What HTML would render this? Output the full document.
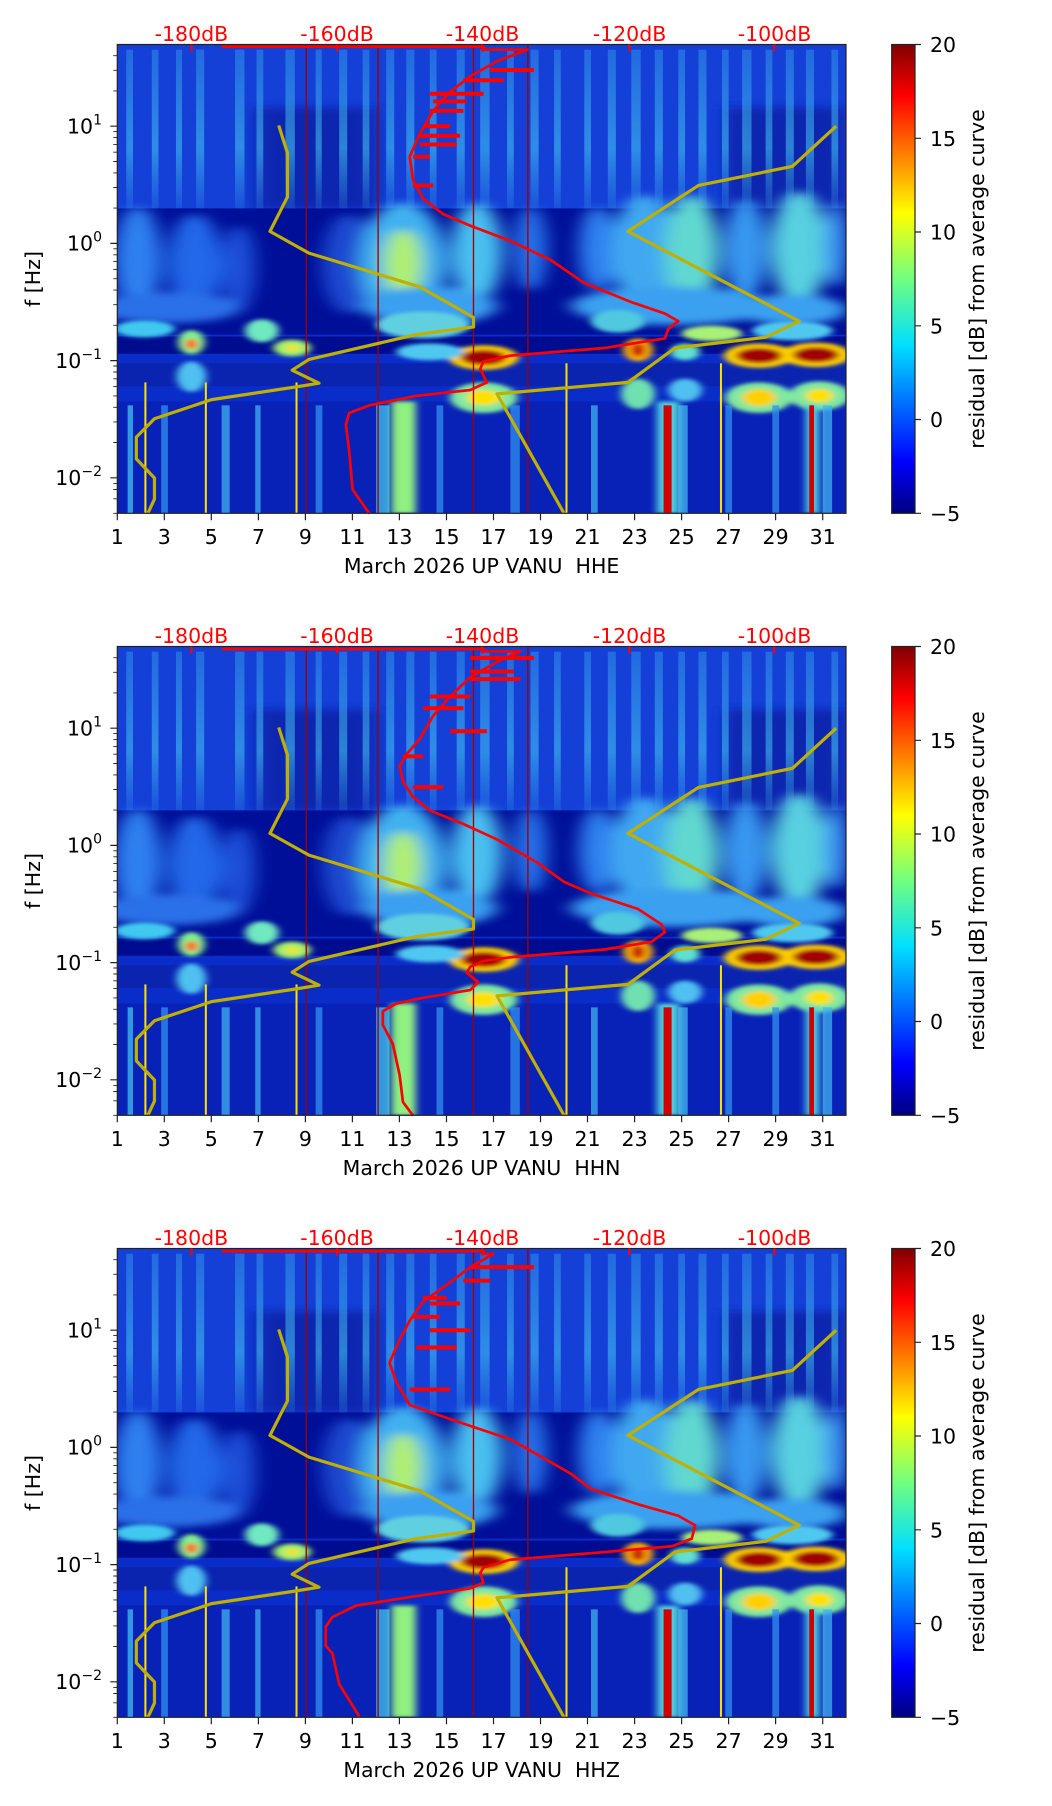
<!DOCTYPE html>
<html><head><meta charset="utf-8"><style>
html,body{margin:0;padding:0;background:#fff;}
svg{display:block;}
text{font-family:"DejaVu Sans","Liberation Sans",sans-serif;}
</style></head><body>
<svg width="1052" height="1806" viewBox="0 0 1052 1806" xmlns="http://www.w3.org/2000/svg">
<defs>
<linearGradient id="jet" x1="0" y1="1" x2="0" y2="0">
<stop offset="0" stop-color="#000080"/><stop offset="0.11" stop-color="#0000ff"/>
<stop offset="0.36" stop-color="#00e0ff"/><stop offset="0.5" stop-color="#70ff80"/>
<stop offset="0.64" stop-color="#ffff00"/><stop offset="0.89" stop-color="#ff0000"/>
<stop offset="1" stop-color="#800000"/></linearGradient>
<linearGradient id="stripeG" x1="0" y1="0" x2="0" y2="1">
<stop offset="0" stop-color="#40b8f0" stop-opacity="0.35"/><stop offset="0.6" stop-color="#40c0f0" stop-opacity="0.6"/><stop offset="1" stop-color="#40c0f0" stop-opacity="0.1"/></linearGradient>
<filter id="b1" x="-50%" y="-50%" width="200%" height="200%"><feGaussianBlur stdDeviation="14 10"/></filter>
<filter id="b2" x="-50%" y="-50%" width="200%" height="200%"><feGaussianBlur stdDeviation="6 5"/></filter>
<clipPath id="cp"><rect x="175" y="117" width="1085" height="1226"/></clipPath>
<g id="spec" clip-path="url(#cp)">
<rect x="175" y="117" width="1085" height="1226" fill="#0a2cc8"/>
<rect x="175" y="117" width="1085" height="430" fill="#1440d8"/>
<rect x="380" y="280" width="180" height="267" fill="#0a28b0" filter="url(#b1)"/>
<rect x="1080" y="280" width="180" height="267" fill="#0a28b0" filter="url(#b1)"/>
<g fill="url(#stripeG)">
<rect x="188" y="130" width="10" height="430"/><rect x="226" y="130" width="10" height="430"/>
<rect x="262" y="130" width="9" height="430"/><rect x="292" y="130" width="12" height="430"/>
<rect x="350" y="130" width="14" height="430"/><rect x="382" y="130" width="10" height="430"/>
<rect x="425" y="130" width="14" height="430"/><rect x="470" y="130" width="9" height="430"/>
<rect x="505" y="130" width="12" height="430"/><rect x="540" y="130" width="10" height="430"/>
<rect x="575" y="130" width="12" height="430"/><rect x="605" y="130" width="12" height="430"/>
<rect x="640" y="130" width="10" height="430"/><rect x="680" y="130" width="12" height="430"/>
<rect x="715" y="130" width="14" height="430"/><rect x="755" y="130" width="10" height="430"/>
<rect x="790" y="130" width="12" height="430"/><rect x="825" y="130" width="10" height="430"/>
<rect x="870" y="130" width="10" height="430"/><rect x="905" y="130" width="12" height="430"/>
<rect x="940" y="130" width="14" height="430"/><rect x="975" y="130" width="12" height="430"/>
<rect x="1010" y="130" width="10" height="430"/><rect x="1040" y="130" width="12" height="430"/>
<rect x="1075" y="130" width="10" height="430"/><rect x="1105" y="130" width="14" height="430"/>
<rect x="1140" y="130" width="10" height="430"/><rect x="1170" y="130" width="12" height="430"/>
<rect x="1200" y="130" width="12" height="430"/><rect x="1238" y="130" width="10" height="430"/>
</g>
<rect x="175" y="545" width="1085" height="330" fill="#000f98"/>
<g filter="url(#b1)">
<ellipse cx="205" cy="680" rx="35" ry="140" fill="#2f80f0"/>
<ellipse cx="290" cy="690" rx="40" ry="130" fill="#2468e8"/>
<ellipse cx="355" cy="700" rx="25" ry="110" fill="#1a50d8"/>
<ellipse cx="520" cy="690" rx="40" ry="130" fill="#1a48d0"/>
<ellipse cx="600" cy="690" rx="65" ry="160" fill="#40b0f0"/>
<ellipse cx="600" cy="690" rx="28" ry="90" fill="#b0f070"/>
<ellipse cx="710" cy="660" rx="38" ry="130" fill="#48c0f0"/>
<ellipse cx="790" cy="650" rx="25" ry="110" fill="#2870e8"/>
<ellipse cx="890" cy="650" rx="28" ry="110" fill="#2f80f0"/>
<ellipse cx="960" cy="660" rx="50" ry="150" fill="#40a8f0"/>
<ellipse cx="1030" cy="660" rx="40" ry="150" fill="#60d8d0"/>
<ellipse cx="1110" cy="650" rx="32" ry="130" fill="#3898f0"/>
<ellipse cx="1190" cy="650" rx="42" ry="150" fill="#58d0e0"/>
<ellipse cx="1245" cy="640" rx="18" ry="110" fill="#3a90f0"/>
<ellipse cx="250" cy="805" rx="110" ry="40" fill="#2a70e8"/>
<ellipse cx="640" cy="800" rx="100" ry="50" fill="#3aa0f0"/>
<ellipse cx="1000" cy="800" rx="150" ry="50" fill="#3aa0f0"/>
<ellipse cx="1180" cy="810" rx="80" ry="40" fill="#3aa0f0"/>
</g>
<rect x="175" y="880" width="1085" height="45" fill="#000c90"/>
<rect x="175" y="950" width="1085" height="60" fill="#0a24b0"/>
<rect x="175" y="1050" width="1085" height="293" fill="#0822b8"/>
<g filter="url(#b2)">
<ellipse cx="215" cy="860" rx="45" ry="22" fill="#40c8f0"/>
<ellipse cx="390" cy="865" rx="25" ry="30" fill="#70e8c0"/>
<ellipse cx="630" cy="850" rx="70" ry="35" fill="#60d0e0"/>
<ellipse cx="920" cy="840" rx="40" ry="30" fill="#50c8e0"/>
<ellipse cx="1060" cy="872" rx="45" ry="20" fill="#a8f078"/>
<ellipse cx="1180" cy="865" rx="60" ry="25" fill="#50c8f0"/>
<ellipse cx="285" cy="895" rx="20" ry="32" fill="#80f090"/>
<ellipse cx="285" cy="900" rx="9" ry="14" fill="#ff6000"/>
<ellipse cx="435" cy="910" rx="28" ry="22" fill="#a0f070"/>
<ellipse cx="435" cy="910" rx="10" ry="8" fill="#ffe000"/>
<ellipse cx="720" cy="935" rx="52" ry="32" fill="#ffd000"/>
<ellipse cx="720" cy="935" rx="34" ry="20" fill="#a00000"/>
<ellipse cx="640" cy="920" rx="50" ry="22" fill="#50c8f0"/>
<ellipse cx="950" cy="915" rx="22" ry="30" fill="#ffb000"/>
<ellipse cx="950" cy="915" rx="10" ry="18" fill="#c00000"/>
<ellipse cx="1020" cy="920" rx="22" ry="22" fill="#60e0d0"/>
<ellipse cx="1130" cy="930" rx="52" ry="32" fill="#ffd000"/>
<ellipse cx="1130" cy="930" rx="34" ry="20" fill="#a00000"/>
<ellipse cx="1215" cy="928" rx="52" ry="32" fill="#ffd000"/>
<ellipse cx="1215" cy="928" rx="34" ry="20" fill="#a00000"/>
<ellipse cx="285" cy="985" rx="22" ry="40" fill="#50c0f0"/>
<ellipse cx="720" cy="1040" rx="50" ry="40" fill="#80e8a0"/>
<ellipse cx="720" cy="1040" rx="25" ry="20" fill="#ffe000"/>
<ellipse cx="950" cy="1030" rx="25" ry="40" fill="#70e0b0"/>
<ellipse cx="1130" cy="1040" rx="50" ry="40" fill="#80e8a0"/>
<ellipse cx="1130" cy="1040" rx="25" ry="22" fill="#ffd000"/>
<ellipse cx="1220" cy="1035" rx="45" ry="38" fill="#80e8a0"/>
<ellipse cx="1220" cy="1035" rx="20" ry="18" fill="#ffe000"/>
<ellipse cx="1020" cy="1020" rx="25" ry="30" fill="#50c0f0"/>
</g>
<g opacity="0.75">
<rect x="190" y="1060" width="8" height="283" fill="#40c0f0"/>
<rect x="240" y="1060" width="10" height="283" fill="#3090f0"/>
<rect x="330" y="1060" width="12" height="283" fill="#40b0f0"/>
<rect x="380" y="1060" width="8" height="283" fill="#40b0f0"/>
<rect x="470" y="1060" width="10" height="283" fill="#3090f0"/>
<rect x="560" y="1060" width="20" height="283" fill="#40c0f0"/>
<rect x="650" y="1060" width="10" height="283" fill="#3090f0"/>
<rect x="760" y="1060" width="14" height="283" fill="#3090f0"/>
<rect x="880" y="1060" width="10" height="283" fill="#40b0f0"/>
<rect x="1010" y="1060" width="14" height="283" fill="#40b0f0"/>
<rect x="1080" y="1060" width="10" height="283" fill="#3090f0"/>
<rect x="1150" y="1060" width="10" height="283" fill="#3090f0"/>
<rect x="1225" y="1060" width="14" height="283" fill="#40b0f0"/>
</g>
<rect x="583" y="1050" width="36" height="293" fill="#90f080" filter="url(#b2)"/>
<rect x="978" y="1050" width="34" height="293" fill="#50d0e0" filter="url(#b2)"/>
<rect x="988" y="1060" width="12" height="283" fill="#d00000"/>
<rect x="1200" y="1060" width="20" height="283" fill="#50d0e0" filter="url(#b2)"/>
<rect x="1205" y="1060" width="7" height="283" fill="#d00000"/>
<g fill="#ffe000"><rect x="215" y="1000" width="3" height="343"/><rect x="305" y="1000" width="3" height="343"/><rect x="440" y="1000" width="3" height="343"/><rect x="842" y="950" width="3" height="393"/><rect x="1072" y="950" width="3" height="393"/></g>
<g fill="#a00000"><rect x="455" y="117" width="2" height="1226"/><rect x="562" y="117" width="2" height="1226"/><rect x="785" y="117" width="2" height="1226"/><rect x="704" y="117" width="2" height="1226"/></g>
</g>
</defs>

<g transform="scale(0.6716,0.3824)"><use href="#spec"/></g>
<g transform="translate(0,602)"><g transform="scale(0.6716,0.3824)"><use href="#spec"/></g></g>
<g transform="translate(0,1204)"><g transform="scale(0.6716,0.3824)"><use href="#spec"/></g></g>

<g id="yel" fill="none" stroke="#c0b000" stroke-width="3.2" stroke-linejoin="round">
<polyline vector-effect="non-scaling-stroke" transform="scale(0.6716,0.3824)" points="415,328 428,400 428,515 402,605 460,662 625,750 705,830 705,855 620,875 460,940 435,968 475,1002 440,1012 315,1045 230,1095 203,1143 203,1200 230,1250 230,1305 220,1343"/>
<polyline vector-effect="non-scaling-stroke" transform="scale(0.6716,0.3824)" points="1245,330 1180,435 1040,485 935,605 1190,840 1140,882 1005,910 935,1000 740,1030 840,1343"/>
</g>
<use href="#yel" transform="translate(0,602)"/>
<use href="#yel" transform="translate(0,1204)"/>

<g fill="none" stroke="#ff0000" stroke-width="2.7" stroke-linejoin="round">
<g transform="scale(0.6716,0.3824)">
<polyline vector-effect="non-scaling-stroke" points="330,122 720,122 720,130 785,130 740,160 700,200 670,240 645,290 625,350 610,410 615,470 630,520 660,560 700,590 760,630 820,680 870,740 940,790 990,820 1010,840 995,860 990,885 900,910 760,930 720,945 715,965 725,1000 700,1020 620,1035 550,1060 520,1080 515,1110 520,1180 525,1280 550,1343"/>
<path vector-effect="non-scaling-stroke" stroke-width="4" d="M730,183H795M640,245H720M645,265H695M640,290H690M630,330H670M625,355H685M625,378H680M615,410H640M615,485H645M690,210H750"/>
</g>
<g transform="translate(0,600) scale(0.6716,0.3862)">
<polyline vector-effect="non-scaling-stroke" points="330,127 720,127 720,133 775,133 740,160 700,200 670,250 645,300 625,360 605,400 595,430 600,470 615,510 640,545 690,580 740,620 800,680 840,730 880,760 950,800 985,840 990,860 970,885 900,905 760,925 720,935 700,950 695,965 712,990 700,1010 630,1030 590,1045 570,1065 570,1100 585,1150 595,1230 600,1300 615,1335"/>
<path vector-effect="non-scaling-stroke" stroke-width="4" d="M670,340H725M615,485H660M700,150H795M700,185H765M700,205H775M640,250H700M630,280H690M600,405H630"/>
</g>
<g transform="translate(0,1206) scale(0.6716,0.3824)">
<polyline vector-effect="non-scaling-stroke" points="330,118 720,118 720,125 735,125 700,160 670,200 630,250 610,300 595,350 580,410 590,460 610,520 650,545 700,575 760,610 800,650 850,700 880,740 950,780 1010,810 1035,835 1030,870 1000,890 900,905 760,925 720,945 715,960 720,985 700,1000 620,1020 530,1045 495,1075 485,1100 485,1150 495,1170 505,1250 535,1335"/>
<path vector-effect="non-scaling-stroke" stroke-width="4" d="M700,160H795M640,325H700M620,370H680M610,480H670M690,195H730M640,255H685M630,240H665M615,290H655"/>
</g>
</g>

<g id="axes">
<rect x="117.3" y="44.5" width="728.7" height="468.8" fill="none" stroke="#222" stroke-width="1.2"/>
<g stroke="#222" stroke-width="1.2">
<path d="M117.3,513.3v7M164.3,513.3v7M211.3,513.3v7M258.4,513.3v7M305.4,513.3v7M352.4,513.3v7M399.4,513.3v7M446.5,513.3v7M493.5,513.3v7M540.5,513.3v7M587.5,513.3v7M634.6,513.3v7M681.6,513.3v7M728.6,513.3v7M775.6,513.3v7M822.7,513.3v7"/>
<path d="M117.3,126.2h-7M117.3,243.4h-7M117.3,360.6h-7M117.3,477.8h-7"/>
<path stroke-width="0.9" d="M117.3,513.3h-4M117.3,498.8h-4M117.3,489.5h-4M117.3,483.4h-4M117.3,442.5h-4M117.3,421.9h-4M117.3,407.3h-4M117.3,395.9h-4M117.3,386.6h-4M117.3,378.8h-4M117.3,372h-4M117.3,366h-4M117.3,325.3h-4M117.3,304.7h-4M117.3,290.1h-4M117.3,278.7h-4M117.3,269.4h-4M117.3,261.6h-4M117.3,254.8h-4M117.3,248.8h-4M117.3,208.1h-4M117.3,187.5h-4M117.3,172.9h-4M117.3,161.5h-4M117.3,152.2h-4M117.3,144.4h-4M117.3,137.6h-4M117.3,131.6h-4M117.3,90.9h-4M117.3,70.3h-4M117.3,55.7h-4"/>
</g>
<g stroke="#ff0000" stroke-width="2.2"><path d="M191.4,44.5v7M337,44.5v7M482.2,44.5v7M629.3,44.5v7M774.3,44.5v7"/></g>
<g font-size="20.5" fill="#ff0000" text-anchor="middle">
<text x="191.4" y="41">-180dB</text><text x="337" y="41">-160dB</text><text x="482.5" y="41">-140dB</text><text x="629.5" y="41">-120dB</text><text x="774.5" y="41">-100dB</text>
</g>
<g font-size="20.5" fill="#000" text-anchor="middle">
<text x="117.3" y="544">1</text><text x="164.3" y="544">3</text><text x="211.3" y="544">5</text><text x="258.4" y="544">7</text><text x="305.4" y="544">9</text><text x="352.4" y="544">11</text><text x="399.4" y="544">13</text><text x="446.5" y="544">15</text><text x="493.5" y="544">17</text><text x="540.5" y="544">19</text><text x="587.5" y="544">21</text><text x="634.6" y="544">23</text><text x="681.6" y="544">25</text><text x="728.6" y="544">27</text><text x="775.6" y="544">29</text><text x="822.7" y="544">31</text>
</g>
<g font-size="20.5" fill="#000" text-anchor="end">
<text x="102" y="133.5">10<tspan font-size="14" dy="-9">1</tspan></text>
<text x="102" y="250.7">10<tspan font-size="14" dy="-9">0</tspan></text>
<text x="102" y="367.9">10<tspan font-size="14" dy="-9">−1</tspan></text>
<text x="102" y="485.1">10<tspan font-size="14" dy="-9">−2</tspan></text>
</g>
<text font-size="20.5" text-anchor="middle" transform="translate(40,279) rotate(-90)">f [Hz]</text>
<rect x="891.7" y="44.5" width="23.3" height="468.8" fill="url(#jet)" stroke="#222" stroke-width="1.2"/>
<g stroke="#222" stroke-width="1.2"><path d="M915,44.5h6M915,138.3h6M915,232h6M915,325.8h6M915,419.5h6M915,513.3h6"/></g>
<g font-size="20.5" fill="#000">
<text x="930" y="52">20</text><text x="930" y="145.8">15</text><text x="930" y="239.5">10</text><text x="930" y="333.3">5</text><text x="930" y="427">0</text><text x="930" y="520.8">−5</text>
</g>
<text font-size="20.5" text-anchor="middle" transform="translate(984,279) rotate(-90)">residual [dB] from average curve</text>
</g>
<use href="#axes" transform="translate(0,602)"/>
<use href="#axes" transform="translate(0,1204)"/>
<g font-size="20.5" text-anchor="middle" fill="#000">
<text x="481.6" y="573">March 2026 UP VANU&#160; HHE</text>
<text x="481.6" y="1175">March 2026 UP VANU&#160; HHN</text>
<text x="481.6" y="1777">March 2026 UP VANU&#160; HHZ</text>
</g>
</svg>
</body></html>
